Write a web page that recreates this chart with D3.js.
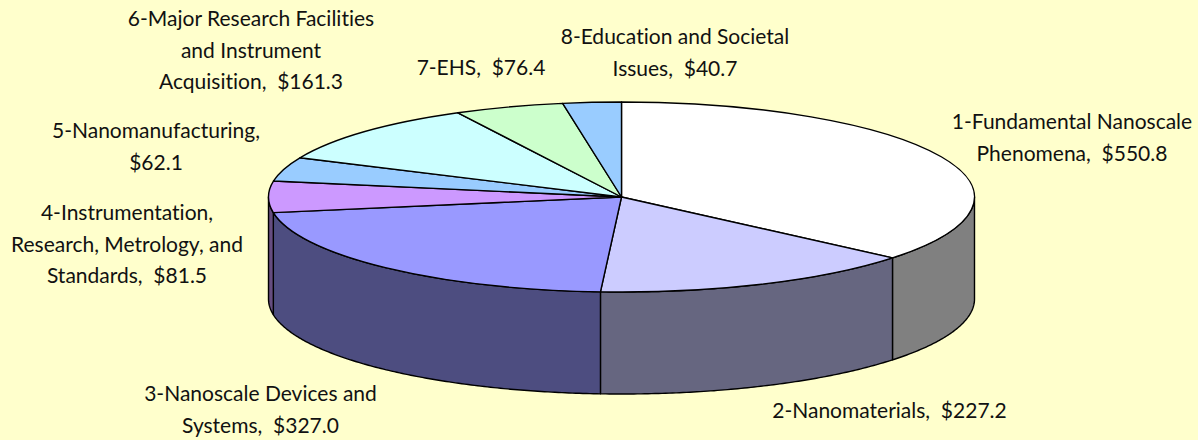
<!DOCTYPE html>
<html>
<head>
<meta charset="utf-8">
<script src="https://cdn.jsdelivr.net/npm/d3@7/dist/d3.min.js"></script>
<style>
  html, body { margin: 0; padding: 0; background: #ffffcc; overflow: hidden; }
  text { font-family: Lato, "Liberation Sans", sans-serif; font-size: 21px; fill: #111; white-space: pre; font-variant-ligatures: none; }
</style>
</head>
<body>
<div id="chart"></div>
<script>
const categories = [
  "1-Fundamental Nanoscale Phenomena",
  "2-Nanomaterials",
  "3-Nanoscale Devices and Systems",
  "4-Instrumentation, Research, Metrology, and Standards",
  "5-Nanomanufacturing",
  "6-Major Research Facilities and Instrument Acquisition",
  "7-EHS",
  "8-Education and Societal Issues"
];
const values = [550.8, 227.2, 327.0, 81.5, 62.1, 161.3, 76.4, 40.7];
const labelLines = [
  ["1-Fundamental Nanoscale", "Phenomena,  $550.8"],
  ["2-Nanomaterials,  $227.2"],
  ["3-Nanoscale Devices and", "Systems,  $327.0"],
  ["4-Instrumentation,", "Research, Metrology, and", "Standards,  $81.5"],
  ["5-Nanomanufacturing,", "$62.1"],
  ["6-Major Research Facilities", "and Instrument", "Acquisition,  $161.3"],
  ["7-EHS,  $76.4"],
  ["8-Education and Societal", "Issues,  $40.7"]
];
const topColors = ["#ffffff", "#ccccff", "#9999ff", "#cc99ff", "#99ccff", "#ccffff", "#ccffcc", "#99ccff"];

const width = 1198, height = 440;
const cx = 621.5, cy = 197, rx = 353, ry = 95, depth = 102;

// centre x and first baseline of each label block
const labelX = [1072, 889.5, 260.5, 127, 156, 251, 481, 675];
const labelY = [129, 418, 401, 220, 138, 26, 75, 44];
const lineGap = 31.7;

const svg = d3.select("#chart").append("svg")
  .attr("width", width)
  .attr("height", height)
  .style("display", "block");

svg.append("rect").attr("width", width).attr("height", height).attr("fill", "#ffffcc");

const slices = d3.pie().sort(null).value(d => d)(values);

// angle 0 is 12 o'clock, going clockwise, same as d3.arc
const px = a => cx + rx * Math.sin(a);
const py = a => cy - ry * Math.cos(a);

const wallLine = d3.line().x(d => d[0]).y(d => d[1]);

// side walls are the top colour at half brightness
const wallColor = c => {
  const t = d3.rgb(c);
  return d3.rgb(t.r / 2, t.g / 2, t.b / 2);
};

const walls = svg.append("g");
slices.forEach((s, i) => {
  const a0 = Math.max(s.startAngle, Math.PI / 2);
  const a1 = Math.min(s.endAngle, Math.PI * 1.5);
  if (a1 <= a0) return;
  const steps = d3.range(a0, a1, 0.01).concat([a1]);
  const upper = steps.map(a => [px(a), py(a)]);
  const lower = steps.slice().reverse().map(a => [px(a), py(a) + depth]);
  walls.append("path")
    .attr("d", wallLine(upper.concat(lower)) + "Z")
    .attr("fill", wallColor(topColors[i]))
    .attr("stroke", "#000")
    .attr("stroke-width", 1.4)
    .attr("stroke-linejoin", "round");
});

// top face: circular arcs squashed into an ellipse
const arc = d3.arc().innerRadius(0).outerRadius(rx);
svg.append("g")
  .attr("transform", `translate(${cx},${cy}) scale(1,${ry / rx})`)
  .selectAll("path")
  .data(slices)
  .join("path")
  .attr("d", arc)
  .attr("fill", (d, i) => topColors[i])
  .attr("stroke", "#000")
  .attr("stroke-width", 1.4)
  .attr("vector-effect", "non-scaling-stroke")
  .attr("stroke-linejoin", "round");

const labels = svg.append("g").selectAll("text")
  .data(labelLines)
  .join("text")
  .attr("text-anchor", "middle")
  .attr("aria-label", (d, i) => categories[i]);

labels.selectAll("tspan")
  .data((d, i) => d.map((line, j) => ({ line, x: labelX[i], y: labelY[i] + j * lineGap })))
  .join("tspan")
  .attr("x", d => d.x)
  .attr("y", d => d.y)
  .text(d => d.line);
</script>
</body>
</html>
